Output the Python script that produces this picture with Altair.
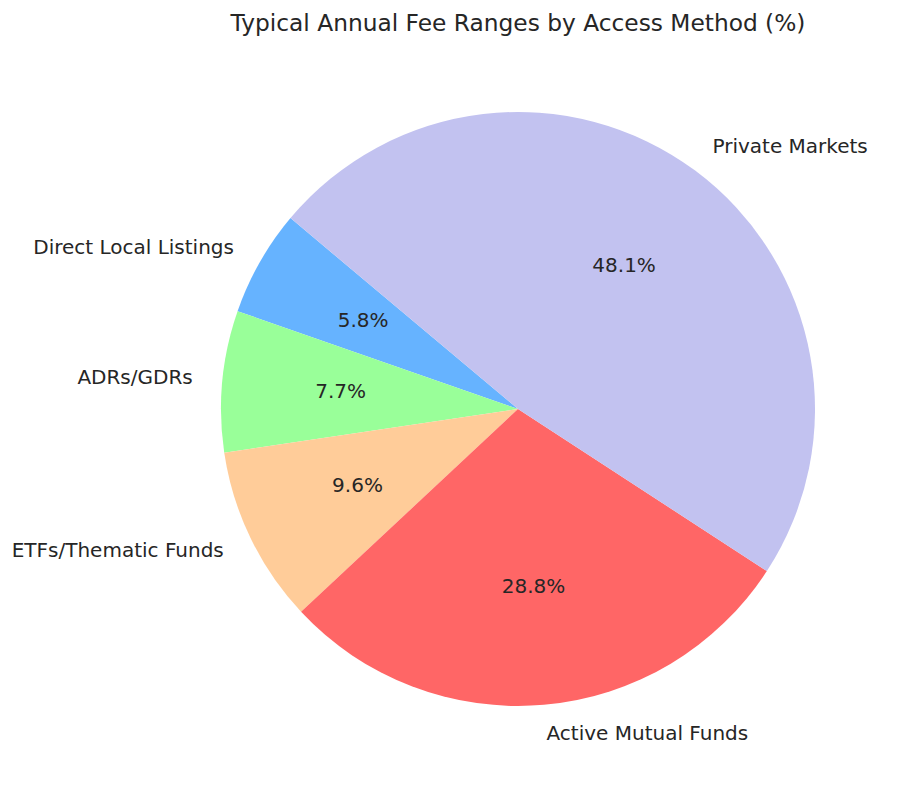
import math
import altair as alt
import pandas as pd

labels = ["Direct Local Listings", "ADRs/GDRs", "ETFs/Thematic Funds", "Active Mutual Funds", "Private Markets"]
values = [0.3, 0.4, 0.5, 1.5, 2.5]
colors = ["#66b3ff", "#99ff99", "#ffcc99", "#ff6666", "#c2c2f0"]
start_angle = 140  # degrees, counter-clockwise from 3 o'clock (matplotlib convention)

total = sum(values)
rows = []
cum = start_angle
for i, (lab, v) in enumerate(zip(labels, values)):
    span = v / total * 360
    mid = cum + span / 2
    cum += span
    side = "right" if math.cos(math.radians(mid)) > 0 else "left"
    rows.append({
        "label": lab,
        "value": v,
        "ord": len(labels) - 1 - i,
        "pct": f"{v / total * 100:.1f}%",
        "side": side,
    })
df = pd.DataFrame(rows)

# vega theta is clockwise from 12 o'clock; reverse the order and start at 90 - start_angle
t0 = math.radians(90 - start_angle)
theta = alt.Theta("value:Q", stack=True, scale=alt.Scale(range=[t0, t0 + 2 * math.pi]))
order = alt.Order("ord:Q", sort="ascending")

cx, cy = 510, 361
R = 297
font = "DejaVu Sans"
tcol = "#262626"
fs = 20

base = alt.Chart(df).encode(theta=theta, order=order, x=alt.value(cx), y=alt.value(cy))

arcs = base.mark_arc(outerRadius=R, strokeWidth=0).encode(
    color=alt.Color("label:N", scale=alt.Scale(domain=labels, range=colors), legend=None)
)

pct = base.mark_text(radius=R * 0.6, font=font, fontSize=fs, color=tcol,
                     align="center", baseline="middle").encode(text="pct:N")

lab_right = base.transform_calculate(
    t="datum.side == 'right' ? datum.label : ''"
).mark_text(radius=R * 1.1, font=font, fontSize=fs, color=tcol,
            align="left", baseline="middle").encode(text="t:N")

lab_left = base.transform_calculate(
    t="datum.side == 'left' ? datum.label : ''"
).mark_text(radius=R * 1.1, font=font, fontSize=fs, color=tcol,
            align="right", baseline="middle").encode(text="t:N")

chart = alt.layer(arcs, pct, lab_right, lab_left).properties(
    width=884,
    height=736,
    background="white",
    padding={"top": 40, "left": 0, "right": 0, "bottom": 0},
    autosize=alt.AutoSizeParams(type="none"),
    title=alt.TitleParams(
        "Typical Annual Fee Ranges by Access Method (%)",
        font=font, fontSize=23.3, fontWeight="normal", color=tcol,
        anchor="middle", dx=68, offset=12,
    ),
).configure_view(strokeWidth=0, stroke="transparent")

chart.save("out.html", embed_options={"renderer": "svg", "actions": False})
